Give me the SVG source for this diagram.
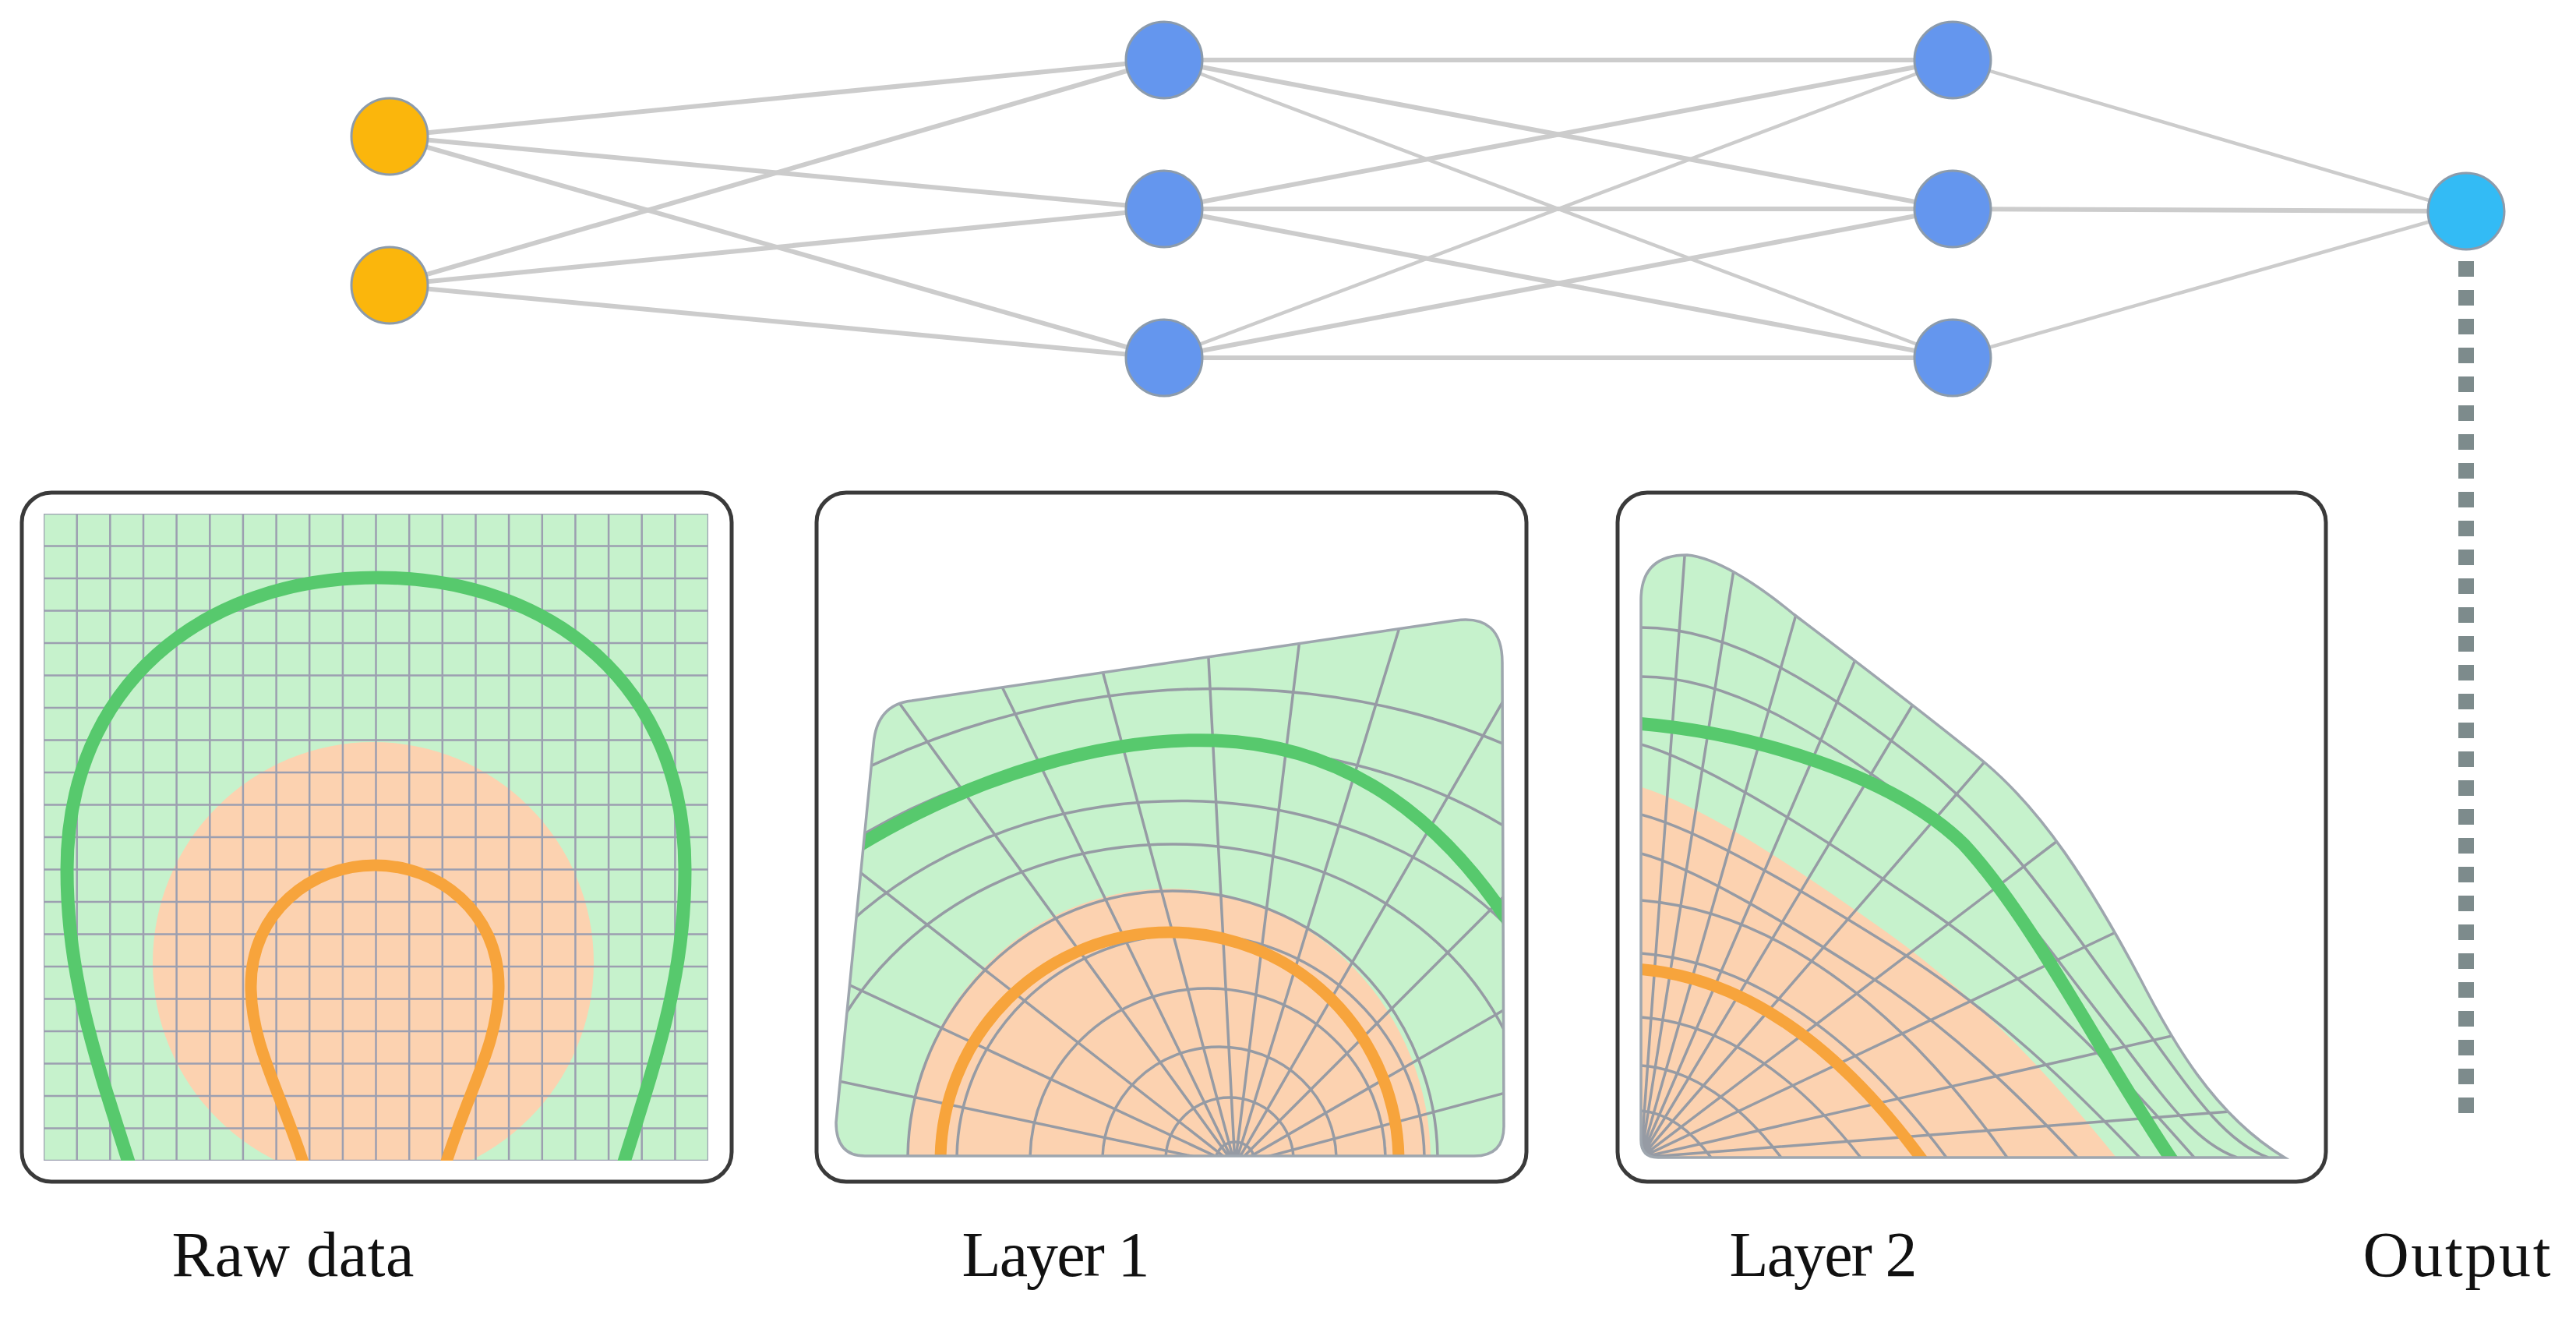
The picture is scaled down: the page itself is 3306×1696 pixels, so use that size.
<svg xmlns="http://www.w3.org/2000/svg" width="3306" height="1696" viewBox="0 0 3306 1696">
<style>
.conn{stroke:#cccccc;stroke-width:6;fill:none;stroke-linecap:round}
.thin{stroke-width:4.5}
.node{stroke:#8c9bab;stroke-width:3}
.in{fill:#fbb60c}
.hid{fill:#6496ee}
.out{fill:#33bbf5}
.frame{fill:#fff;stroke:#3a3a3a;stroke-width:5}
.field{fill:#c6f2cc}
.peach{fill:#fcd2b0}
.grid{fill:none;stroke:#9c9fb0;stroke-width:2.5}
.wgrid{fill:none;stroke:#969ba4;stroke-width:3.5}
.edge{fill:none;stroke:#9ea6ae;stroke-width:3.5}
.gcurve{fill:none;stroke:#57c96d;stroke-width:17;stroke-linecap:butt}
.ocurve{fill:none;stroke:#f7a43c;stroke-width:15;stroke-linecap:butt}
.lbl{font-family:"Liberation Serif","Times New Roman",serif;font-size:82px;fill:#111;text-anchor:middle}
</style>
<defs>
<clipPath id="c1"><rect x="56" y="659" width="853" height="830"/></clipPath>
<clipPath id="c2"><path d="M1073,1440 L1121,955 Q1125,904 1170,899 L1868,796 Q1928,788 1928,850 L1930,1445 Q1930,1483 1892,1483 L1110,1483 Q1073,1483 1073,1440 Z"/></clipPath>
<clipPath id="c3"><path d="M2106,1462 L2106,770 Q2106,712 2165,712 C2200,715 2250,745 2302,788 C2360,832 2470,915 2548,979 C2620,1040 2680,1130 2748,1258 C2785,1330 2840,1430 2932,1485 L2128,1485 Q2106,1485 2106,1462 Z"/></clipPath>
</defs>
<rect width="3306" height="1696" fill="#fff"/>

<g id="connectors">
<line class="conn" x1="500" y1="175" x2="1494" y2="77"/>
<line class="conn" x1="500" y1="175" x2="1494" y2="268"/>
<line class="conn" x1="500" y1="175" x2="1494" y2="459"/>
<line class="conn" x1="500" y1="366" x2="1494" y2="77"/>
<line class="conn" x1="500" y1="366" x2="1494" y2="268"/>
<line class="conn" x1="500" y1="366" x2="1494" y2="459"/>
<line class="conn" x1="1494" y1="77" x2="2506" y2="77"/>
<line class="conn" x1="1494" y1="77" x2="2506" y2="268"/>
<line class="conn thin" x1="1494" y1="77" x2="2506" y2="459"/>
<line class="conn" x1="1494" y1="268" x2="2506" y2="77"/>
<line class="conn" x1="1494" y1="268" x2="2506" y2="268"/>
<line class="conn" x1="1494" y1="268" x2="2506" y2="459"/>
<line class="conn thin" x1="1494" y1="459" x2="2506" y2="77"/>
<line class="conn" x1="1494" y1="459" x2="2506" y2="268"/>
<line class="conn" x1="1494" y1="459" x2="2506" y2="459"/>
<line class="conn thin" x1="2506" y1="77" x2="3165" y2="271"/>
<line class="conn" x1="2506" y1="268" x2="3165" y2="271"/>
<line class="conn thin" x1="2506" y1="459" x2="3165" y2="271"/>
<line x1="3165" y1="335" x2="3165" y2="1430" stroke="#7d8b8c" stroke-width="20" stroke-dasharray="20 17"/>
</g>

<g id="input1"><circle class="node in" cx="500" cy="175" r="49"/></g>
<g id="input2"><circle class="node in" cx="500" cy="366" r="49"/></g>
<g id="h1a"><circle class="node hid" cx="1494" cy="77" r="49"/></g>
<g id="h1b"><circle class="node hid" cx="1494" cy="268" r="49"/></g>
<g id="h1c"><circle class="node hid" cx="1494" cy="459" r="49"/></g>
<g id="h2a"><circle class="node hid" cx="2506" cy="77" r="49"/></g>
<g id="h2b"><circle class="node hid" cx="2506" cy="268" r="49"/></g>
<g id="h2c"><circle class="node hid" cx="2506" cy="459" r="49"/></g>
<g id="output"><circle class="node out" cx="3165" cy="271" r="49"/></g>

<g id="panel-raw">
<rect class="frame" x="28" y="632" width="911" height="884" rx="38"/>
<g clip-path="url(#c1)">
<rect class="field" x="56" y="659" width="853" height="830"/>
<circle class="peach" cx="479" cy="1235" r="283"/>
<path class="grid" d="M56,659V1489M98.7,659V1489M141.3,659V1489M184,659V1489M226.6,659V1489M269.3,659V1489M311.9,659V1489M354.6,659V1489M397.2,659V1489M439.9,659V1489M482.5,659V1489M525.2,659V1489M567.8,659V1489M610.5,659V1489M653.1,659V1489M695.8,659V1489M738.4,659V1489M781.1,659V1489M823.7,659V1489M866.4,659V1489M909,659V1489
M56,659H909M56,700.5H909M56,742H909M56,783.5H909M56,825H909M56,866.5H909M56,908H909M56,949.5H909M56,991H909M56,1032.5H909M56,1074H909M56,1115.5H909M56,1157H909M56,1198.5H909M56,1240H909M56,1281.5H909M56,1323H909M56,1364.5H909M56,1406H909M56,1447.5H909M56,1489H909"/>
<path class="gcurve" d="M168,1500 C120,1350 86,1250 86,1116 C86,880 260,741 484,741 C708,741 879,880 879,1116 C879,1250 845,1350 798,1500"/>
<path class="ocurve" d="M392,1500 C360,1400 322,1340 322,1265 C322,1170 400,1110 481,1110 C562,1110 640,1170 640,1265 C640,1340 600,1400 570,1500"/>
</g>
</g>

<g id="panel-layer1">
<rect class="frame" x="1048" y="632" width="911" height="884" rx="38"/>
<path class="field" d="M1073,1440 L1121,955 Q1125,904 1170,899 L1868,796 Q1928,788 1928,850 L1930,1445 Q1930,1483 1892,1483 L1110,1483 Q1073,1483 1073,1440 Z"/>
<g clip-path="url(#c2)">
<ellipse class="peach" cx="1500" cy="1488" rx="336" ry="348"/>
<g class="wgrid">
<circle cx="1585" cy="1490" r="25"/>
<ellipse cx="1578" cy="1488" rx="82" ry="80"/>
<ellipse cx="1565" cy="1488" rx="150" ry="145"/>
<ellipse cx="1550" cy="1488" rx="228" ry="220"/>
<ellipse cx="1528" cy="1488" rx="300" ry="290"/>
<ellipse cx="1505" cy="1488" rx="340" ry="345"/>
<ellipse cx="1500" cy="1488" rx="470" ry="405" transform="rotate(-2 1500 1488)"/>
<ellipse cx="1500" cy="1488" rx="560" ry="460" transform="rotate(-4 1500 1488)"/>
<ellipse cx="1500" cy="1488" rx="680" ry="530" transform="rotate(-6 1500 1488)"/>
<ellipse cx="1500" cy="1488" rx="800" ry="600" transform="rotate(-8 1500 1488)"/>
<path d="M1585,1495L705,1308M1585,1495L770,1114M1585,1495L876,941M1585,1495L1056,767M1585,1495L1191,686M1585,1495L1352,626M1585,1495L1538,596M1585,1495L1695,601M1585,1495L1848,635M1585,1495L2035,716M1585,1495L2221,859M1585,1495L2364,1045M1585,1495L2454,1262"/>
</g>
<path class="ocurve" d="M1207,1490 A294,294 0 0 1 1795,1490"/>
<path class="gcurve" d="M1100,1086 C1250,995 1420,945 1560,950 C1700,955 1830,1020 1940,1188"/>
</g>
<path class="edge" d="M1073,1440 L1121,955 Q1125,904 1170,899 L1868,796 Q1928,788 1928,850 L1930,1445 Q1930,1483 1892,1483 L1110,1483 Q1073,1483 1073,1440 Z"/>
</g>

<g id="panel-layer2">
<rect class="frame" x="2076" y="632" width="909" height="884" rx="38"/>
<path class="field" d="M2106,1462 L2106,770 Q2106,712 2165,712 C2200,715 2250,745 2302,788 C2360,832 2470,915 2548,979 C2620,1040 2680,1130 2748,1258 C2785,1330 2840,1430 2932,1485 L2128,1485 Q2106,1485 2106,1462 Z"/>
<g clip-path="url(#c3)">
<path class="peach" d="M2100,1008 C2180,1030 2300,1110 2420,1195 C2540,1280 2640,1390 2720,1490 L2100,1490 Z"/>
<g class="wgrid">
<path d="M2106,1425 C2129.4,1426.8 2161.8,1439.4 2196,1485"/>
<path d="M2106,1367 C2152.8,1370.5 2217.6,1395.3 2286,1485"/>
<path d="M2106,1305 C2179.3,1310.4 2280.8,1348.2 2388,1485"/>
<path d="M2106,1223 C2207.9,1230.9 2349,1285.9 2498,1485"/>
<path d="M2106,1155 C2228.2,1164.9 2397.4,1234.2 2576,1485"/>
<path d="M2106,1095 C2173.2,1112.9 2283,1178.5 2392.2,1247.9 C2501.9,1317.3 2593.2,1407.4 2666,1485"/>
<path d="M2106,1045 C2182.8,1065.2 2308.2,1139.2 2433,1217.5 C2558.5,1295.8 2662.8,1397.4 2746,1485"/>
<path d="M2106,955 C2191.2,979.4 2330.4,1068.4 2468.8,1162.8 C2608,1257.1 2723.7,1379.5 2816,1485"/>
<path d="M2106,868 C2220.8,868 2335.5,942 2450.3,1028.4 C2565,1114.8 2641.5,1238.2 2718,1330.8 C2779.2,1411 2817.5,1466.5 2871,1485"/>
<path d="M2106,805 C2226.8,805 2347.5,886.6 2468.3,981.8 C2589,1077 2669.5,1213 2750,1315 C2814.4,1403.4 2854.7,1464.6 2911,1485"/>
<path d="M2106,1485L2163,700M2106,1485L2226,725M2106,1485L2308,778M2106,1485L2386,835M2106,1485L2462,892M2106,1485L2556,967M2106,1485L2652,1070M2106,1485L2728,1190M2106,1485L2805,1325M2106,1485L2875,1425"/>
</g>
<path class="ocurve" d="M2100,1243 C2200,1250 2330,1300 2470,1492"/>
<path class="gcurve" d="M2100,928 C2250,940 2430,995 2520,1083 C2610,1180 2700,1360 2790,1492"/>
</g>
<path class="edge" d="M2106,1462 L2106,770 Q2106,712 2165,712 C2200,715 2250,745 2302,788 C2360,832 2470,915 2548,979 C2620,1040 2680,1130 2748,1258 C2785,1330 2840,1430 2932,1485 L2128,1485 Q2106,1485 2106,1462 Z"/>
</g>

<g id="labels">
<text class="lbl" x="376" y="1637" textLength="311">Raw data</text>
<text class="lbl" x="1355" y="1637" textLength="241">Layer 1</text>
<text class="lbl" x="2340" y="1637" textLength="241">Layer 2</text>
<text class="lbl" x="3153" y="1637" textLength="241">Output</text>
</g>
</svg>
